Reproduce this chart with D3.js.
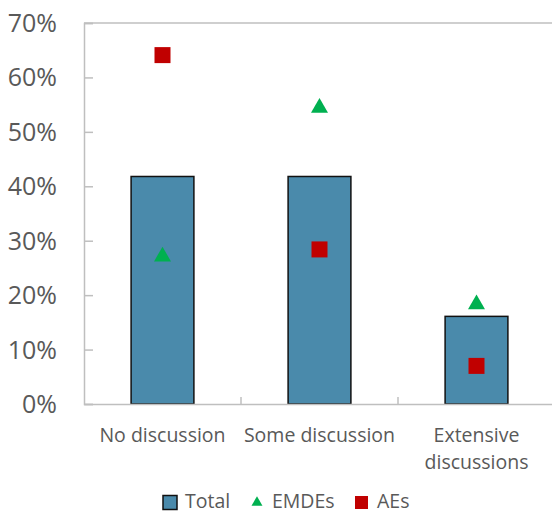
<!DOCTYPE html>
<html><head><meta charset="utf-8">
<script src="https://cdn.jsdelivr.net/npm/d3@7/dist/d3.min.js"></script>
<style>html,body{margin:0;padding:0;background:#fff;}</style>
</head><body>
<script>
const categories = ["No discussion", "Some discussion", "Extensive discussions"];
const categoryLines = [["No discussion"], ["Some discussion"], ["Extensive", "discussions"]];
const totalValues = [41.8, 41.8, 16.1];
const emdeValues = [27.1, 54.4, 18.3];
const aeValues = [64.1, 28.4, 7.0];
const yTicks = [0, 10, 20, 30, 40, 50, 60, 70];
const legendLabels = ["Total", "EMDEs", "AEs"];

(function () {
const W = 552, H = 514;
const mLeft = 84, mRight = 555, mTop = 23, mBottom = 404;
const textColor = "#595959", axisColor = "#BFBFBF";
const font = "'Open Sans', 'Noto Sans', sans-serif";

const svg = d3.select("body").append("svg").attr("width", W).attr("height", H);

const x = d3.scaleBand().domain(categories).range([mLeft, mRight]).paddingInner(0.6).paddingOuter(0.3);
const y = d3.scaleLinear().domain([0, 70]).range([mBottom, mTop]);

// top border line
svg.append("line").attr("x1", mLeft).attr("x2", W).attr("y1", y(70)).attr("y2", y(70))
  .attr("stroke", axisColor).attr("stroke-width", 1.5);

// y axis
const yAxis = svg.append("g").attr("transform", `translate(${mLeft},0)`)
  .call(d3.axisRight(y).tickValues(yTicks).tickSize(9).tickFormat(""));
yAxis.select(".domain").attr("stroke", axisColor).attr("stroke-width", 1.5);
yAxis.selectAll(".tick line").attr("stroke", axisColor).attr("stroke-width", 1.5);

svg.append("g").selectAll("text").data(yTicks).join("text")
  .attr("x", 57).attr("y", d => y(d)).attr("dy", "0.36em")
  .attr("text-anchor", "end").attr("font-family", font).attr("font-size", 25)
  .attr("fill", textColor).text(d => d + "%");

// bars
svg.append("g").selectAll("rect").data(totalValues).join("rect")
  .attr("x", (d, i) => x(categories[i])).attr("width", x.bandwidth())
  .attr("y", d => y(d)).attr("height", d => y(0) - y(d))
  .attr("fill", "#4A8AAB").attr("stroke", "#111").attr("stroke-width", 1.5);

// x axis
const xAxis = svg.append("g").attr("transform", `translate(0,${mBottom})`)
  .call(d3.axisBottom(x).tickSize(0).tickFormat(""));
xAxis.select(".domain").attr("stroke", axisColor).attr("stroke-width", 1.5);
// category separator ticks
svg.append("g").selectAll("line").data(categories.slice(1)).join("line")
  .attr("x1", d => x(d) - x.step() * x.paddingInner() / 2)
  .attr("x2", d => x(d) - x.step() * x.paddingInner() / 2)
  .attr("y1", mBottom).attr("y2", mBottom - 7)
  .attr("stroke", axisColor).attr("stroke-width", 1.5);

// category labels
categories.forEach((c, i) => {
  const t = svg.append("text").attr("text-anchor", "middle").attr("font-family", font)
    .attr("font-size", 19.5).attr("fill", textColor);
  categoryLines[i].forEach((ln, j) => {
    t.append("tspan").attr("x", x(c) + x.bandwidth() / 2).attr("y", 442 + j * 27).text(ln);
  });
});

// EMDE triangles
const tri = d3.symbol().type(d3.symbolTriangle).size(125);
svg.append("g").selectAll("path").data(emdeValues).join("path")
  .attr("transform", (d, i) => `translate(${x(categories[i]) + x.bandwidth() / 2},${y(d)})`)
  .attr("d", tri).attr("fill", "#00B050");

// AE squares
svg.append("g").selectAll("rect").data(aeValues).join("rect")
  .attr("x", (d, i) => x(categories[i]) + x.bandwidth() / 2 - 8)
  .attr("y", d => y(d) - 8).attr("width", 16).attr("height", 16)
  .attr("fill", "#C00000");

// legend
const lg = svg.append("g").attr("font-family", font).attr("font-size", 19.5).attr("fill", textColor);
lg.append("rect").attr("x", 163).attr("y", 495.5).attr("width", 14).attr("height", 14)
  .attr("fill", "#4A8AAB").attr("stroke", "#111").attr("stroke-width", 1.5);
lg.append("text").attr("x", 185).attr("y", 508).text(legendLabels[0]);
lg.append("path").attr("transform", "translate(257,502.5)")
  .attr("d", d3.symbol().type(d3.symbolTriangle).size(52)).attr("fill", "#00B050");
lg.append("text").attr("x", 272).attr("y", 508).text(legendLabels[1]);
lg.append("rect").attr("x", 355).attr("y", 496).attr("width", 13).attr("height", 13).attr("fill", "#C00000");
lg.append("text").attr("x", 377).attr("y", 508).text(legendLabels[2]);
})();
</script>
</body></html>
